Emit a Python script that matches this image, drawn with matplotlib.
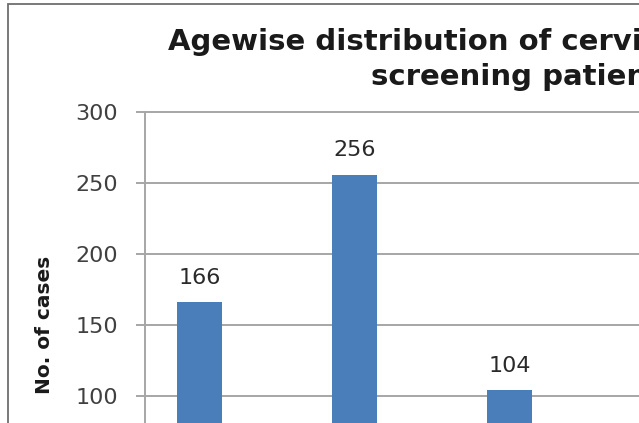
import matplotlib
matplotlib.use("Agg")
import matplotlib.pyplot as plt
from matplotlib.patches import Rectangle

# ---- data ----
categories = ["Group 1", "Group 2", "Group 3"]
cases = [166, 256, 104]
yticks = [100, 150, 200, 250, 300]
title_line1 = "Agewise distribution of cervical cancer"
title_line2 = "screening patients"
ylabel = "No. of cases"

W, H = 639, 423
DPI = 100
fig = plt.figure(figsize=(W / DPI, H / DPI), dpi=DPI)
fig.patch.set_facecolor("white")

def fx(px):
    return px / W

def fy(py):
    return 1 - py / H

# outer chart frame
fig.patches.append(Rectangle((fx(8), fy(500)), fx(700), fy(4) - fy(500),
                             transform=fig.transFigure, fill=False,
                             edgecolor="#6e6e6e", linewidth=1.3))

# axes: left spine at x=145px, value 300 at y=112.5px, value 0 at y=537.6px
ax_left = fx(145)
ax_top = fy(112.5)
ax_bottom = fy(537.6)
ax = fig.add_axes([ax_left, ax_bottom, 1.0 - ax_left, ax_top - ax_bottom])
ax.set_facecolor("none")

x = list(range(len(categories)))
bars = ax.bar(x, cases, width=0.285, color="#4a7ebb", zorder=3)
ax.bar_label(bars, labels=[str(v) for v in cases], padding=10.5,
             fontsize=16, color="#2a2a2a")

ax.set_ylim(0, 300)
ax.set_xlim(-0.352, (639 - 199.5) / 155.0)
ax.set_yticks(yticks)
ax.set_yticklabels([str(v) for v in yticks])
ax.set_xticks([])

ax.yaxis.grid(True, color="#a6a6a6", linewidth=1.4)
ax.set_axisbelow(True)
for gl in ax.get_ygridlines():
    gl.set_clip_on(False)

for s in ["top", "right", "bottom"]:
    ax.spines[s].set_visible(False)
ax.spines["left"].set_color("#a6a6a6")
ax.spines["left"].set_linewidth(1.4)
ax.tick_params(axis="y", direction="out", length=6.5, width=1.4,
               color="#a6a6a6", pad=13, labelsize=16, labelcolor="#404040")

fig.text(fx(44), fy(325), ylabel, rotation=90, ha="center", va="center",
         fontsize=14.5, fontweight="bold", color="#1a1a1a")

fig.text(fx(168), fy(50), title_line1, ha="left", va="baseline",
         fontsize=21, fontweight="bold", color="#1a1a1a")
fig.text(fx(371), fy(85), title_line2, ha="left", va="baseline",
         fontsize=21, fontweight="bold", color="#1a1a1a")

fig.savefig("out.png", dpi=DPI)
